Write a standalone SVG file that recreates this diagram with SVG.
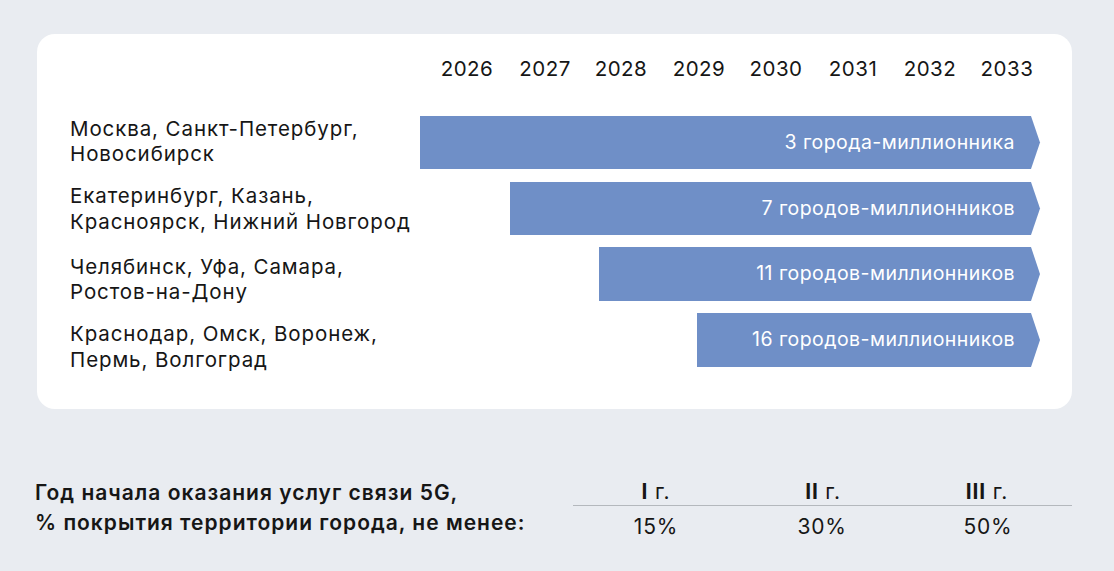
<svg xmlns="http://www.w3.org/2000/svg" width="1114" height="571" viewBox="0 0 1114 571">
<style>
text{font-family:Inter,"Liberation Sans",sans-serif;fill:#161616}
.yr{font-size:20.5px;letter-spacing:0.5px;text-anchor:middle}
.lbl{font-size:20.5px;letter-spacing:0.9px}
.bar{fill:#6f8fc7}
.bt{font-size:19.5px;letter-spacing:0.45px;fill:#ffffff;text-anchor:end}
.hd{font-size:21px;font-weight:600;letter-spacing:1px}
.col{font-size:21px;letter-spacing:0.8px;text-anchor:middle}
</style>
<rect x="0" y="0" width="1114" height="571" fill="#e9ecf1"/>
<rect x="37" y="34" width="1035" height="375" rx="18" fill="#ffffff"/>
<g id="years">
<text class="yr" x="467" y="76">2026</text>
<text class="yr" x="545" y="76">2027</text>
<text class="yr" x="621" y="76">2028</text>
<text class="yr" x="699" y="76">2029</text>
<text class="yr" x="776" y="76">2030</text>
<text class="yr" x="853" y="76">2031</text>
<text class="yr" x="930" y="76">2032</text>
<text class="yr" x="1007" y="76">2033</text>
</g>
<g id="row1">
<text class="lbl" x="70" y="136">Москва, Санкт-Петербург,</text>
<text class="lbl" x="70" y="161">Новосибирск</text>
<polygon class="bar" points="420,116 1031,116 1040,142.5 1031,169 420,169"/>
<text class="bt" x="1015" y="149">3 города-миллионника</text>
</g>
<g id="row2">
<text class="lbl" x="70" y="203">Екатеринбург, Казань,</text>
<text class="lbl" x="70" y="229">Красноярск, Нижний Новгород</text>
<polygon class="bar" points="510,182 1031,182 1040,208.5 1031,235 510,235"/>
<text class="bt" x="1015" y="215">7 городов-миллионников</text>
</g>
<g id="row3">
<text class="lbl" x="70" y="274">Челябинск, Уфа, Самара,</text>
<text class="lbl" x="70" y="299">Ростов-на-Дону</text>
<polygon class="bar" points="599,247 1031,247 1040,274 1031,301 599,301"/>
<text class="bt" x="1015" y="280">11 городов-миллионников</text>
</g>
<g id="row4">
<text class="lbl" x="70" y="341">Краснодар, Омск, Воронеж,</text>
<text class="lbl" x="70" y="367">Пермь, Волгоград</text>
<polygon class="bar" points="697,313 1031,313 1040,340 1031,367 697,367"/>
<text class="bt" x="1015" y="346">16 городов-миллионников</text>
</g>
<g id="legend">
<text class="hd" x="35" y="500">Год начала оказания услуг связи 5G,</text>
<text class="hd" x="35" y="530">% покрытия территории города, не менее:</text>
<line x1="573" y1="505.5" x2="1072" y2="505.5" stroke="#b4b8bd" stroke-width="1"/>
<text class="col" x="656" y="499"><tspan font-weight="700">I</tspan> г.</text>
<text class="col" x="823" y="499"><tspan font-weight="700">II</tspan> г.</text>
<text class="col" x="987" y="499"><tspan font-weight="700">III</tspan> г.</text>
<text class="col" x="656" y="534">15%</text>
<text class="col" x="822" y="534">30%</text>
<text class="col" x="988" y="534">50%</text>
</g>
</svg>
